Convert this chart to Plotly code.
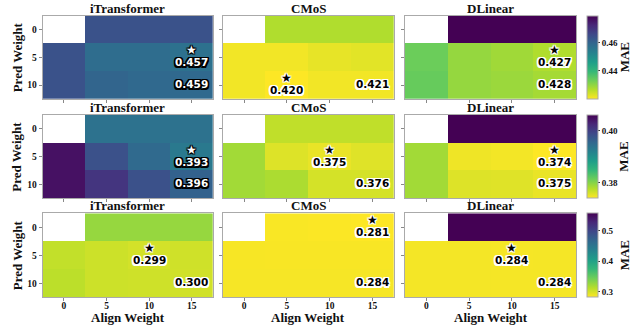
import plotly.graph_objects as go
import numpy as np

models = ["iTransformer", "CMoS", "DLinear"]
align_weights = [0, 5, 10, 15]
pred_weights = [0, 5, 10]
nan = None

# MAE grids: rows = pred weight (0, 5, 10), cols = align weight (0, 5, 10, 15)
itr_row1 = [[nan, 0.464, 0.464, 0.464],
            [0.464, 0.458, 0.458, 0.457],
            [0.464, 0.460, 0.459, 0.459]]
cmos_row1 = [[nan, 0.427, 0.427, 0.427],
             [0.421, 0.421, 0.422, 0.4225],
             [0.421, 0.420, 0.421, 0.421]]
dlin_row1 = [[nan, 0.479, 0.479, 0.479],
             [0.4335, 0.4295, 0.4285, 0.427],
             [0.434, 0.4295, 0.429, 0.428]]

itr_row2 = [[nan, 0.394, 0.394, 0.394],
            [0.4045, 0.398, 0.395, 0.393],
            [0.4045, 0.401, 0.398, 0.396]]
cmos_row2 = [[nan, 0.377, 0.377, 0.377],
             [0.3785, 0.3756, 0.375, 0.3755],
             [0.3785, 0.378, 0.376, 0.376]]
dlin_row2 = [[nan, 0.406, 0.406, 0.406],
             [0.3785, 0.3747, 0.3745, 0.374],
             [0.3785, 0.3756, 0.3755, 0.375]]

itr_row3 = [[nan, 0.325, 0.325, 0.325],
            [0.306, 0.302, 0.299, 0.3005],
            [0.3085, 0.302, 0.301, 0.300]]
cmos_row3 = [[nan, 0.2825, 0.282, 0.281],
             [0.2835, 0.283, 0.283, 0.283],
             [0.284, 0.284, 0.284, 0.284]]
dlin_row3 = [[nan, 0.557, 0.557, 0.557],
             [0.285, 0.285, 0.2838, 0.2846],
             [0.285, 0.285, 0.2846, 0.2842]]

grid_rows = [[itr_row1, cmos_row1, dlin_row1],
             [itr_row2, cmos_row2, dlin_row2],
             [itr_row3, cmos_row3, dlin_row3]]

cbar_tickvals = [[0.44, 0.46], [0.38, 0.40], [0.3, 0.4, 0.5]]
cbar_ticktext = [["0.44", "0.46"], ["0.38", "0.40"], ["0.3", "0.4", "0.5"]]

W, H = 635, 325
col_px = [(42.7, 213.0), (222.7, 394.0), (405.0, 576.0)]
row_px = [(15.7, 99.0), (115.0, 198.3), (213.3, 297.3)]


def px(x):
    return x / W


def py(y):
    return 1 - y / H


SERIF = "Liberation Serif, Times New Roman, serif"
SANS = "DejaVu Sans, sans-serif"


def outline(c, w=1.5):
    offs = [(-w, -w), (w, -w), (-w, w), (w, w), (0, w), (0, -w), (w, 0), (-w, 0)]
    return ", ".join(f"{a}px {b}px 0 {c}" for a, b in offs)


fig = go.Figure()
annotations = []

for r in range(3):
    all_vals = [v for g in grid_rows[r] for row in g for v in row if v is not None]
    zmin, zmax = min(all_vals), max(all_vals)
    y0, y1 = row_px[r]
    fig.layout[f"coloraxis{r + 1}"] = dict(
        colorscale="Viridis", reversescale=True, cmin=zmin, cmax=zmax,
        colorbar=dict(
            x=px(586.7), xanchor="left", y=py((y0 + y1) / 2), yanchor="middle",
            len=(y1 - y0) / H, lenmode="fraction", thickness=11, thicknessmode="pixels",
            tickvals=cbar_tickvals[r], ticktext=cbar_ticktext[r], ticks="outside",
            ticklen=2, tickcolor="#333", xpad=0, ypad=0,
            outlinewidth=1, outlinecolor="#aaaaaa",
            tickfont=dict(family=SERIF, size=9, color="#111", weight="bold"),
        ),
    )
    annotations.append(dict(
        x=px(624), y=py((y0 + y1) / 2), xref="paper", yref="paper", text="MAE",
        textangle=-90, showarrow=False, xanchor="center", yanchor="middle",
        font=dict(family=SERIF, size=13, color="#111", weight="bold")))
    annotations.append(dict(
        x=px(17), y=py((y0 + y1) / 2), xref="paper", yref="paper", text="Pred Weight",
        textangle=-90, showarrow=False, xanchor="center", yanchor="middle",
        font=dict(family=SERIF, size=13, color="#111", weight="bold")))

    for c in range(3):
        n = r * 3 + c + 1
        sfx = "" if n == 1 else str(n)
        x0, x1 = col_px[c]
        z = grid_rows[r][c]
        fig.add_trace(go.Heatmap(
            z=z, x=align_weights, y=pred_weights, coloraxis=f"coloraxis{r + 1}",
            xaxis=f"x{sfx}", yaxis=f"y{sfx}", hoverongaps=False, xgap=0, ygap=0))
        fig.layout[f"xaxis{sfx}"] = dict(
            domain=[px(x0), px(x1)], anchor=f"y{sfx}", range=[-2.5, 17.5],
            tickvals=align_weights, showticklabels=(r == 2), ticks="outside", ticklen=3,
            tickcolor="#888", showline=True, mirror=True, linecolor="#aaaaaa", linewidth=1,
            showgrid=False, zeroline=False, ticklabelstandoff=-4,
            tickfont=dict(family=SERIF, size=9.5, color="#111", weight="bold"))
        fig.layout[f"yaxis{sfx}"] = dict(
            domain=[py(y1), py(y0)], anchor=f"x{sfx}", range=[12.5, -2.5],
            tickvals=pred_weights, showticklabels=(c == 0), ticks="outside", ticklen=3,
            tickcolor="#888", showline=True, mirror=True, linecolor="#aaaaaa", linewidth=1,
            showgrid=False, zeroline=False,
            tickfont=dict(family=SERIF, size=9.5, color="#111", weight="bold"))
        # panel title
        annotations.append(dict(
            x=px((x0 + x1) / 2), y=py(y0 - 7.5), xref="paper", yref="paper",
            text=models[c], showarrow=False, xanchor="center", yanchor="middle",
            font=dict(family=SERIF, size=13, color="#111", weight="bold")))
        if r == 2:
            annotations.append(dict(
                x=px((x0 + x1) / 2), y=py(317), xref="paper", yref="paper",
                text="Align Weight", showarrow=False, xanchor="center", yanchor="middle",
                font=dict(family=SERIF, size=13, color="#111", weight="bold")))

        arr = np.array([[np.nan if v is None else v for v in row] for row in z])
        bi, bj = np.unravel_index(np.nanargmin(arr), arr.shape)
        li, lj = len(pred_weights) - 1, len(align_weights) - 1

        def style(v):
            t = (zmax - v) / (zmax - zmin)
            if t < 0.5:
                return "white", "black"
            return "black", "white"

        fc, oc = style(arr[bi, bj])
        annotations.append(dict(
            x=align_weights[bj], y=pred_weights[bi], xref=f"x{sfx}", yref=f"y{sfx}",
            text="★", showarrow=False, yshift=7,
            font=dict(family=SANS, size=12, color=fc, shadow=outline(oc, 1))))
        annotations.append(dict(
            x=align_weights[bj], y=pred_weights[bi], xref=f"x{sfx}", yref=f"y{sfx}",
            text=f"{arr[bi, bj]:.3f}", showarrow=False, yshift=-5,
            font=dict(family=SANS, size=10.5, color=fc, weight="bold", shadow=outline(oc))))
        if (bi, bj) != (li, lj):
            fc2, oc2 = style(arr[li, lj])
            annotations.append(dict(
                x=align_weights[lj], y=pred_weights[li], xref=f"x{sfx}", yref=f"y{sfx}",
                text=f"{arr[li, lj]:.3f}", showarrow=False, yshift=1,
                font=dict(family=SANS, size=10.5, color=fc2, weight="bold", shadow=outline(oc2))))

fig.update_layout(
    width=W, height=H, margin=dict(l=0, r=0, t=0, b=0),
    paper_bgcolor="white", plot_bgcolor="white", showlegend=False,
    annotations=annotations,
)

fig.write_html(
    "out.html",
    config={"displayModeBar": False},
    post_script="document.body.style.margin='0';document.body.style.overflow='hidden';",
)
